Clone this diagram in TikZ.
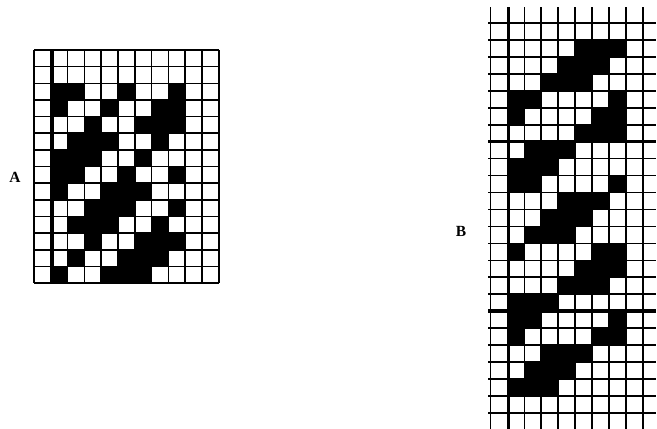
\documentclass[tikz,border=0pt]{standalone}
\usepackage{fontspec}
\setmainfont{Liberation Serif}

\begin{document}
\begin{tikzpicture}[
  x=1pt, y=-1pt,
  gridline/.style={line width=1.6pt},
  heavyline/.style={line width=3.4pt},
  tag/.style={font=\fontsize{15.5}{16}\selectfont\bfseries, inner sep=0pt}
]
  \useasboundingbox (0,0) rectangle (657,429);

  % draft A: 11 x 14
  \foreach \r/\cols in {3/{2,3,6,9}, 4/{2,5,8,9}, 5/{4,7,8,9}, 6/{3,4,5,8},
                        7/{2,3,4,7}, 8/{2,3,6,9}, 9/{2,5,6,7}, 10/{4,5,6,9},
                        11/{3,4,5,8}, 12/{4,7,8,9}, 13/{3,6,7,8}, 14/{2,5,6,7}}
    \foreach \c in \cols
      \fill (34+16.8*\c-16.8, 50+16.65*\r-16.65) rectangle ++(16.8,16.65);
  \foreach \i in {0,...,11}
    \draw[gridline] (34+16.8*\i,50) -- (34+16.8*\i,283.1);
  \foreach \j in {0,...,14}
    \draw[gridline] (34,50+16.65*\j) -- (218.8,50+16.65*\j);
  \draw[heavyline] (52,50) -- (52,283.1);

  % draft B: 9 columns and a cut one, open at top and bottom
  \foreach \r/\cols in {2/{6,7,8}, 3/{5,6,7}, 4/{4,5,6}, 5/{2,3,8}, 6/{2,7,8},
                        7/{6,7,8}, 8/{3,4,5}, 9/{2,3,4}, 10/{2,3,8}, 11/{5,6,7},
                        12/{4,5,6}, 13/{3,4,5}, 14/{2,7,8}, 15/{6,7,8}, 16/{5,6,7},
                        17/{2,3,4}, 18/{2,3,8}, 19/{2,7,8}, 20/{4,5,6}, 21/{3,4,5},
                        22/{2,3,4}}
    \foreach \c in \cols
      \fill (490.5+16.9*\c-16.9, 23+16.95*\r-16.95) rectangle ++(16.9,16.95);
  \foreach \i in {0,...,9}
    \draw[gridline] (490.5+16.9*\i,7) -- (490.5+16.9*\i,429);
  \foreach \j in {0,...,23}
    \draw[gridline] (488,23+16.95*\j) -- (656,23+16.95*\j);
  \draw[heavyline] (508.5,7) -- (508.5,429);
  \draw[heavyline] (488,141.65) -- (656,141.65);
  \draw[heavyline] (488,311.15) -- (656,311.15);
  \draw[line width=2.2pt] (642.6,7) -- (642.6,429);

  \node[tag] (labelA) at (15,177) {A};
  \node[tag] (labelB) at (461,231) {B};
\end{tikzpicture}
\end{document}
